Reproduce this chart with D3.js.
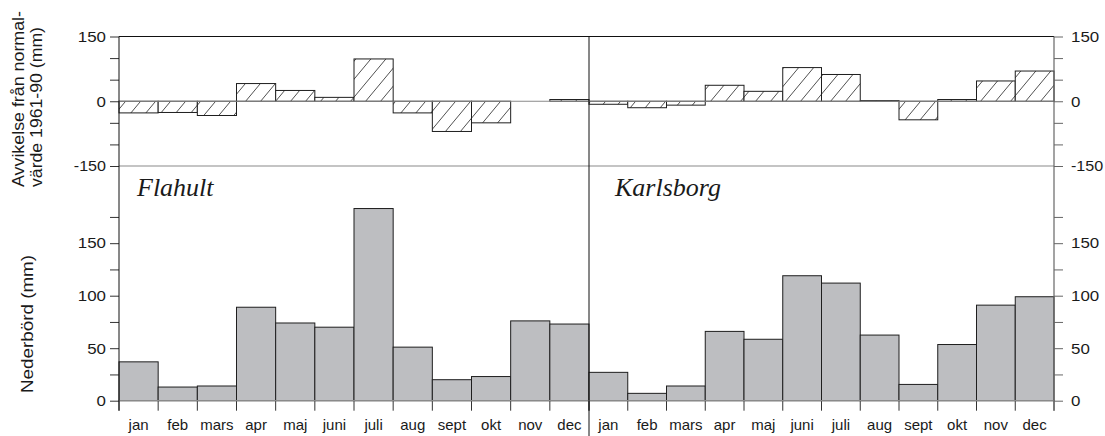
<!DOCTYPE html>
<html>
<head>
<meta charset="utf-8">
<script src="https://cdn.jsdelivr.net/npm/d3@7"></script>
<style>
  html, body { margin: 0; padding: 0; background: #fff; }
  svg { display: block; }
</style>
</head>
<body>
<svg id="chart" width="1105" height="436"></svg>
<script>
const months = ["jan","feb","mars","apr","maj","juni","juli","aug","sept","okt","nov","dec"];
const stations = ["Flahult","Karlsborg"];
const flahultPrecip = [37,13,14,89,74,70,183,51,20,23,76,73];
const karlsborgPrecip = [27,7,14,66,58.5,119,112,62.5,15.5,53.5,91,99];
const flahultDev = [-27,-26,-33,41,25,9,98,-27,-70,-50,0,4];
const karlsborgDev = [-7,-15,-9,37,23,78,62,1.5,-43,4,47,70];
const devTickValues = [-150,-100,-50,0,50,100,150];
const devTickLabels = [-150,0,150];
const precipTickValues = [0,25,50,75,100,125,150,175];
const precipTickLabels = [0,50,100,150];

const svg = d3.select("#chart");
const L = 119, M = 589, R = 1054;
const topY = 36.5, sepY = 166, baseY = 400.7;

const xF = d3.scaleBand().domain(months).range([L, M]).paddingInner(0).paddingOuter(0);
const xK = d3.scaleBand().domain(months).range([M, R]).paddingInner(0).paddingOuter(0);
const yDev = d3.scaleLinear().domain([-150,150]).range([sepY, topY]);
const yPre = d3.scaleLinear().domain([0,223.5]).range([baseY, sepY]);

// hatch pattern
const defs = svg.append("defs");
const pat = defs.append("pattern").attr("id","hatch")
  .attr("patternUnits","userSpaceOnUse").attr("width",15).attr("height",18);
pat.append("rect").attr("width",15).attr("height",18).attr("fill","#fff");
pat.append("path").attr("d","M0,18L15,0M-3,3.6L3,-3.6M12,21.6L18,14.4")
  .attr("stroke","#222").attr("stroke-width",0.8).attr("fill","none");

const font = "'Liberation Sans', Arial, Helvetica, sans-serif";

const panels = [
  {x: xF, precip: flahultPrecip, dev: flahultDev, name: stations[0], nameX: 137},
  {x: xK, precip: karlsborgPrecip, dev: karlsborgDev, name: stations[1], nameX: 615}
];

panels.forEach(p => {
  svg.append("g").selectAll("rect").data(months).join("rect")
    .attr("x", d => p.x(d))
    .attr("width", p.x.bandwidth())
    .attr("y", (d,i) => yPre(p.precip[i]))
    .attr("height", (d,i) => yPre(0) - yPre(p.precip[i]))
    .attr("fill", "#bdbec1")
    .attr("stroke", "#1e1e1e")
    .attr("stroke-width", 1);
  svg.append("g").selectAll("rect").data(months).join("rect")
    .attr("x", d => p.x(d))
    .attr("width", p.x.bandwidth())
    .attr("y", (d,i) => yDev(Math.max(0, p.dev[i])))
    .attr("height", (d,i) => Math.abs(yDev(p.dev[i]) - yDev(0)))
    .attr("fill", "url(#hatch)")
    .attr("stroke", (d,i) => p.dev[i] === 0 ? "none" : "#1e1e1e")
    .attr("stroke-width", 1);
  svg.append("text").attr("x", p.nameX).attr("y", 196)
    .attr("font-family", "'Liberation Serif', 'Times New Roman', serif")
    .attr("font-style", "italic").attr("font-size", 26).attr("fill", "#1a1a1a")
    .text(p.name);
  svg.append("g").selectAll("text").data(months).join("text")
    .attr("x", d => p.x(d) + p.x.bandwidth()/2)
    .attr("y", 430)
    .attr("text-anchor", "middle")
    .attr("font-family", font).attr("font-size", 15).attr("fill", "#1a1a1a")
    .text(d => d);
  const edges = months.map(d => p.x(d)).concat([p.x.range()[1]]);
  svg.append("g").selectAll("line").data(edges).join("line")
    .attr("x1", d => d).attr("x2", d => d)
    .attr("y1", baseY).attr("y2", baseY + 10)
    .attr("stroke", "#333").attr("stroke-width", 1);
});

[yDev(0), sepY, baseY].forEach(y => {
  svg.append("line").attr("x1", L).attr("x2", R).attr("y1", y).attr("y2", y)
    .attr("stroke", "#8a8a8a").attr("stroke-width", 1.2);
});
svg.append("line").attr("x1", L).attr("x2", R).attr("y1", topY).attr("y2", topY)
  .attr("stroke", "#111").attr("stroke-width", 1);
svg.append("line").attr("x1", M).attr("x2", M).attr("y1", topY).attr("y2", 436)
  .attr("stroke", "#111").attr("stroke-width", 1);

function numLen(d) {
  let n = 0;
  for (const c of String(d)) n += (c === "-") ? 4 : 9.4;
  return n;
}

function styleAxis(g, labels, tickColor) {
  g.select(".domain").remove();
  g.selectAll(".tick line").attr("stroke", tickColor).attr("stroke-width", 1);
  g.selectAll(".tick text")
    .attr("font-family", font).attr("font-size", 15).attr("fill", "#1a1a1a")
    .text(d => labels.includes(d) ? String(d) : "")
    .each(function(d) {
      if (labels.includes(d)) d3.select(this).attr("textLength", numLen(d)).attr("lengthAdjust", "spacingAndGlyphs");
    });
}

const gLT = svg.append("g").attr("transform", `translate(${L},0)`)
  .call(d3.axisLeft(yDev).tickValues(devTickValues).tickSize(9).tickPadding(4));
styleAxis(gLT, devTickLabels, "#333");
const gLB = svg.append("g").attr("transform", `translate(${L},0)`)
  .call(d3.axisLeft(yPre).tickValues(precipTickValues).tickSize(9).tickPadding(4));
styleAxis(gLB, precipTickLabels, "#333");
svg.append("line").attr("x1", L).attr("x2", L).attr("y1", topY).attr("y2", baseY + 10)
  .attr("stroke", "#111").attr("stroke-width", 1);

const gRT = svg.append("g").attr("transform", `translate(${R},0)`)
  .call(d3.axisRight(yDev).tickValues(devTickValues).tickSize(9).tickPadding(8));
styleAxis(gRT, devTickLabels, "#666");
const gRB = svg.append("g").attr("transform", `translate(${R},0)`)
  .call(d3.axisRight(yPre).tickValues(precipTickValues).tickSize(9).tickPadding(8));
styleAxis(gRB, precipTickLabels, "#666");
svg.append("line").attr("x1", R).attr("x2", R).attr("y1", topY).attr("y2", baseY + 10)
  .attr("stroke", "#666").attr("stroke-width", 1.2);

svg.append("text").attr("transform", "translate(24,187) rotate(-90)")
  .attr("font-family", font).attr("font-size", 16).attr("fill", "#1a1a1a")
  .attr("textLength", 176).attr("lengthAdjust", "spacingAndGlyphs")
  .text("Avvikelse från normal-");
svg.append("text").attr("transform", "translate(42,187) rotate(-90)")
  .attr("font-family", font).attr("font-size", 16).attr("fill", "#1a1a1a")
  .attr("textLength", 160).attr("lengthAdjust", "spacingAndGlyphs")
  .text("värde 1961-90 (mm)");
svg.append("text").attr("transform", "translate(33,324) rotate(-90)")
  .attr("text-anchor", "middle")
  .attr("font-family", font).attr("font-size", 16).attr("fill", "#1a1a1a")
  .attr("textLength", 138).attr("lengthAdjust", "spacingAndGlyphs")
  .text("Nederbörd (mm)");
</script>
</body>
</html>
